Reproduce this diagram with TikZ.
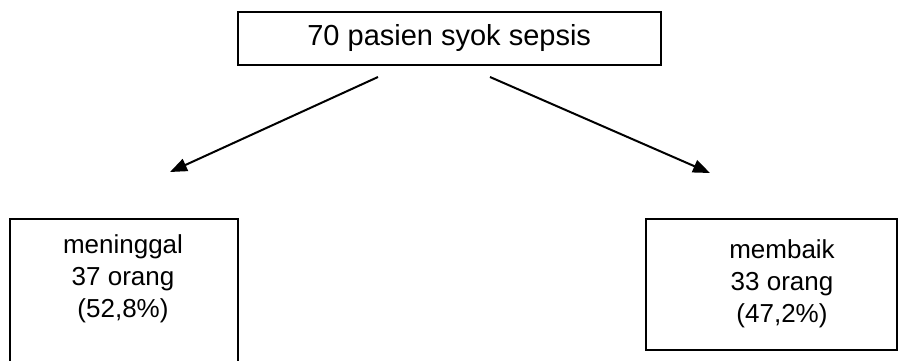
\documentclass[tikz,border=0pt]{standalone}
\usepackage{fontspec}
\setmainfont{Liberation Sans}
\usetikzlibrary{arrows.meta}
\begin{document}
\begin{tikzpicture}[x=1pt,y=-1pt,
  box/.style={draw=black,line width=2pt,rectangle,inner sep=0pt},
  label text/.style={align=center,inner sep=0pt,font=\fontsize{26}{32}\selectfont},
  arrow/.style={line width=2pt,-{Triangle[length=17pt,width=13pt]}}]
  \useasboundingbox (0,0) rectangle (899,360);
  \clip (0,0) rectangle (899,360);
  % top box
  \node[box,minimum width=423pt,minimum height=53.3pt,
        font=\fontsize{29}{34}\selectfont] (top) at (449.2,38.4) {70 pasien syok sepsis};
  % outcome boxes
  \node[box,minimum width=228.2pt,minimum height=181pt] (leftbox) at (123.6,309.5) {};
  \node[box,minimum width=251.3pt,minimum height=131pt] (rightbox) at (771.4,284.5) {};
  \node[label text] (lefttext) at (123,279) {meninggal\\37 orang\\(52,8\%)};
  \node[label text] (righttext) at (782,284) {membaik\\33 orang\\(47,2\%)};
  % arrow ends
  \coordinate (l0) at (378,77);
  \coordinate (l1) at (170,172);
  \coordinate (r0) at (490,77);
  \coordinate (r1) at (710,173);
  \draw[arrow] (l0) -- (l1);
  \draw[arrow] (r0) -- (r1);
\end{tikzpicture}
\end{document}
